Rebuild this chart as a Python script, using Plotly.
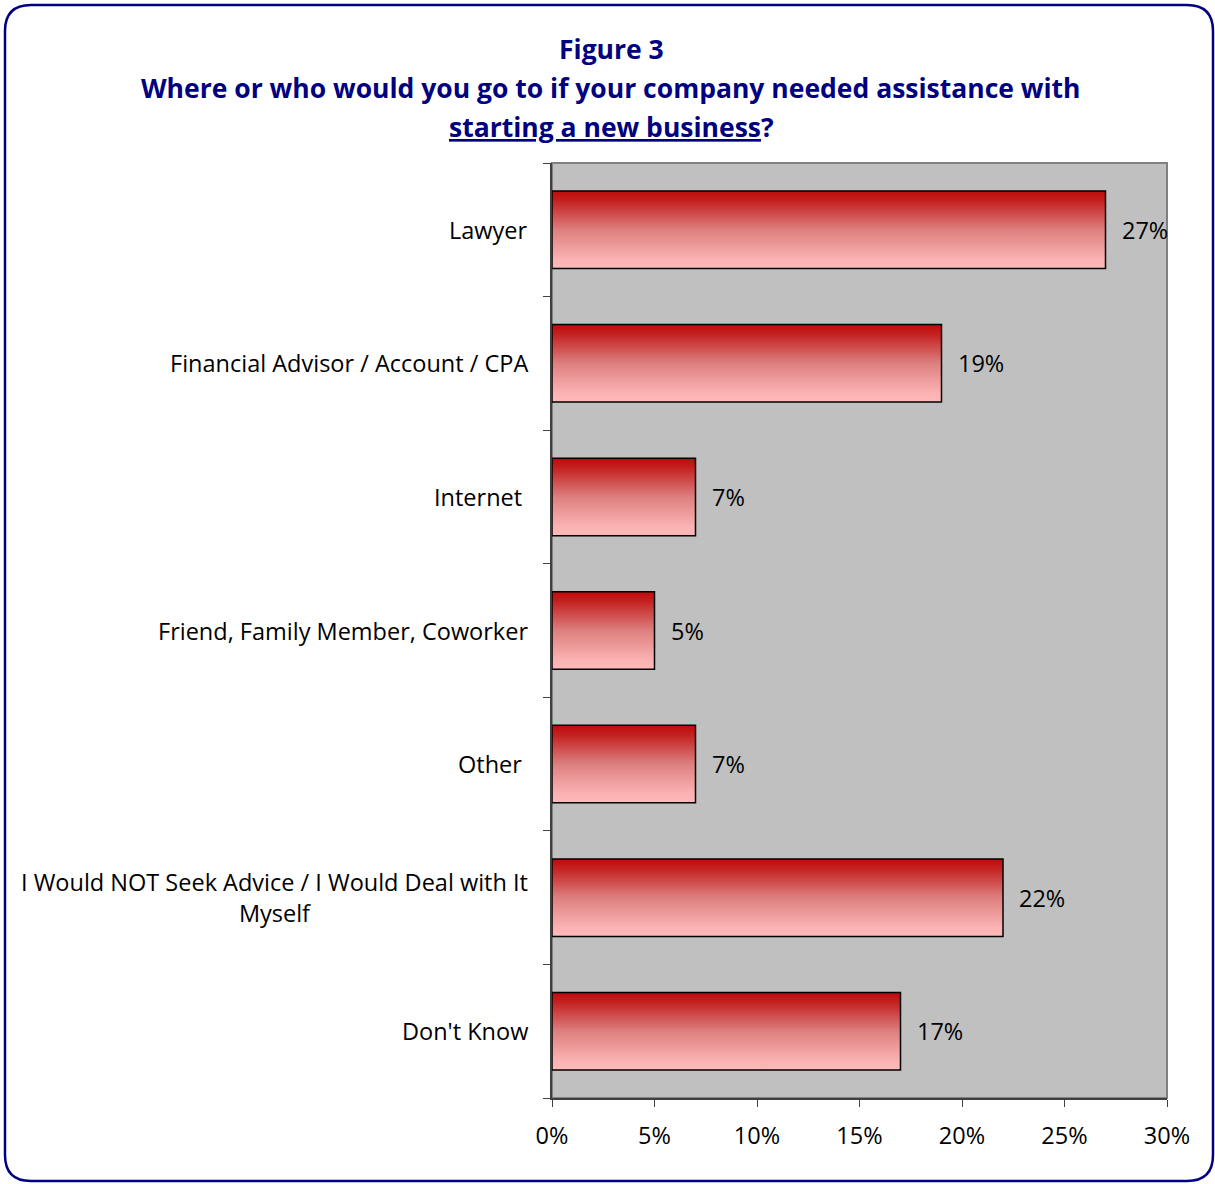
import plotly.graph_objects as go

# Survey responses: share of respondents by source of assistance
categories = [
    "Lawyer",
    "Financial Advisor / Account / CPA",
    "Internet\u00a0",
    "Friend, Family Member, Coworker",
    "Other\u00a0",
    "I Would NOT Seek Advice / I Would Deal with It<br>Myself",
    "Don't Know",
]
values = [27, 19, 7, 5, 7, 22, 17]
x_ticks = [0, 5, 10, 15, 20, 25, 30]
x_tick_labels = [f"{t}%" for t in x_ticks]

W, H = 1215, 1184
M_L, M_R, M_T, M_B = 552, 48, 163, 86
PW, PH = W - M_L - M_R, H - M_T - M_B

FONT = "Open Sans"
NAVY = "#000080"
BAR_W = 0.58
LABEL_SIZE = 23.5

n = len(categories)
pos = [n - 1 - i for i in range(n)]  # first category at the top


def px_x(p):
    return (p - M_L) / PW


def px_y(p):
    return (H - M_B - p) / PH


fig = go.Figure()

# base bars
fig.add_trace(go.Bar(
    x=values, y=pos, orientation="h", width=BAR_W,
    marker=dict(color="#DC7070", line=dict(width=0)),
    hoverinfo="skip", showlegend=False,
))

# vertical red gradient shading over each bar
for v, p in zip(values, pos):
    y0, y1 = p - BAR_W / 2, p + BAR_W / 2
    fig.add_trace(go.Scatter(
        x=[0, v, v, 0, 0], y=[y0, y0, y1, y1, y0],
        mode="lines", fill="toself",
        line=dict(color="black", width=1.5),
        fillgradient=dict(
            type="vertical",
            colorscale=[[0, "#FDB9B9"], [0.12, "#FBB2B2"], [0.5, "#DD7F7F"],
                        [0.88, "#C42020"], [1, "#C00A0A"]],
        ),
        hoverinfo="skip", showlegend=False,
    ))

annotations = []
# value labels
for v, p in zip(values, pos):
    annotations.append(dict(
        x=v, y=p, xref="x", yref="y", text=f"{v}%", showarrow=False,
        xanchor="left", yanchor="middle", xshift=14,
        font=dict(family=FONT, size=LABEL_SIZE, color="black"),
    ))
# category labels
for c, p in zip(categories, pos):
    annotations.append(dict(
        x=0, y=p, xref="paper", yref="y", text=c, showarrow=False,
        xanchor="right", yanchor="middle", xshift=-22, align="center",
        font=dict(family=FONT, size=LABEL_SIZE, color="black"),
    ))
# title block
title_lines = [
    ("<b>Figure 3</b>", 49),
    ("<b>Where or who would you go to if your company needed assistance with</b>", 88),
    ("<b><u>starting a new business</u>?</b>", 127),
]
for t, yp in title_lines:
    annotations.append(dict(
        x=px_x(611), y=px_y(yp), xref="paper", yref="paper", text=t,
        showarrow=False, xanchor="center", yanchor="middle",
        font=dict(family=FONT, size=26.5, color=NAVY),
    ))

# rounded frame around the whole figure
fx0, fx1, fy0, fy1, r = 5, 1213, 5, 1181, 26
pts = [
    ("M", fx0 + r, fy0), ("L", fx1 - r, fy0), ("Q", fx1, fy0, fx1, fy0 + r),
    ("L", fx1, fy1 - r), ("Q", fx1, fy1, fx1 - r, fy1),
    ("L", fx0 + r, fy1), ("Q", fx0, fy1, fx0, fy1 - r),
    ("L", fx0, fy0 + r), ("Q", fx0, fy0, fx0 + r, fy0),
]
path = ""
for cmd, *xy in pts:
    coords = []
    for i in range(0, len(xy), 2):
        coords.append(f"{px_x(xy[i]):.5f},{px_y(xy[i + 1]):.5f}")
    path += cmd + " ".join(coords) + " "
path += "Z"

shapes = [
    dict(type="path", path=path, xref="paper", yref="paper",
         line=dict(color=NAVY, width=2.5), layer="above"),
    # plot area border (top and right edges)
    dict(type="rect", x0=0, x1=1, y0=0, y1=1, xref="paper", yref="paper",
         line=dict(color="#808080", width=2), layer="below"),
]

fig.update_layout(
    width=W, height=H,
    margin=dict(l=M_L, r=M_R, t=M_T, b=M_B, autoexpand=False),
    paper_bgcolor="white", plot_bgcolor="#C0C0C0",
    showlegend=False, bargap=0,
    annotations=annotations, shapes=shapes,
    xaxis=dict(
        range=[0, 30], tickvals=x_ticks, ticktext=x_tick_labels,
        showgrid=False, zeroline=False,
        showline=True, linecolor="#404040", linewidth=1.5,
        ticks="outside", ticklen=7, tickcolor="#404040", tickwidth=1,
        ticklabelstandoff=9,
        tickfont=dict(family=FONT, size=LABEL_SIZE, color="black"),
    ),
    yaxis=dict(
        range=[-0.5, n - 0.5], tickvals=[k - 0.5 for k in range(n + 1)],
        showticklabels=False, showgrid=False, zeroline=False,
        showline=True, linecolor="#404040", linewidth=1.5,
        ticks="outside", ticklen=7, tickcolor="#404040", tickwidth=1,
    ),
)

fig.write_html("out.html")
